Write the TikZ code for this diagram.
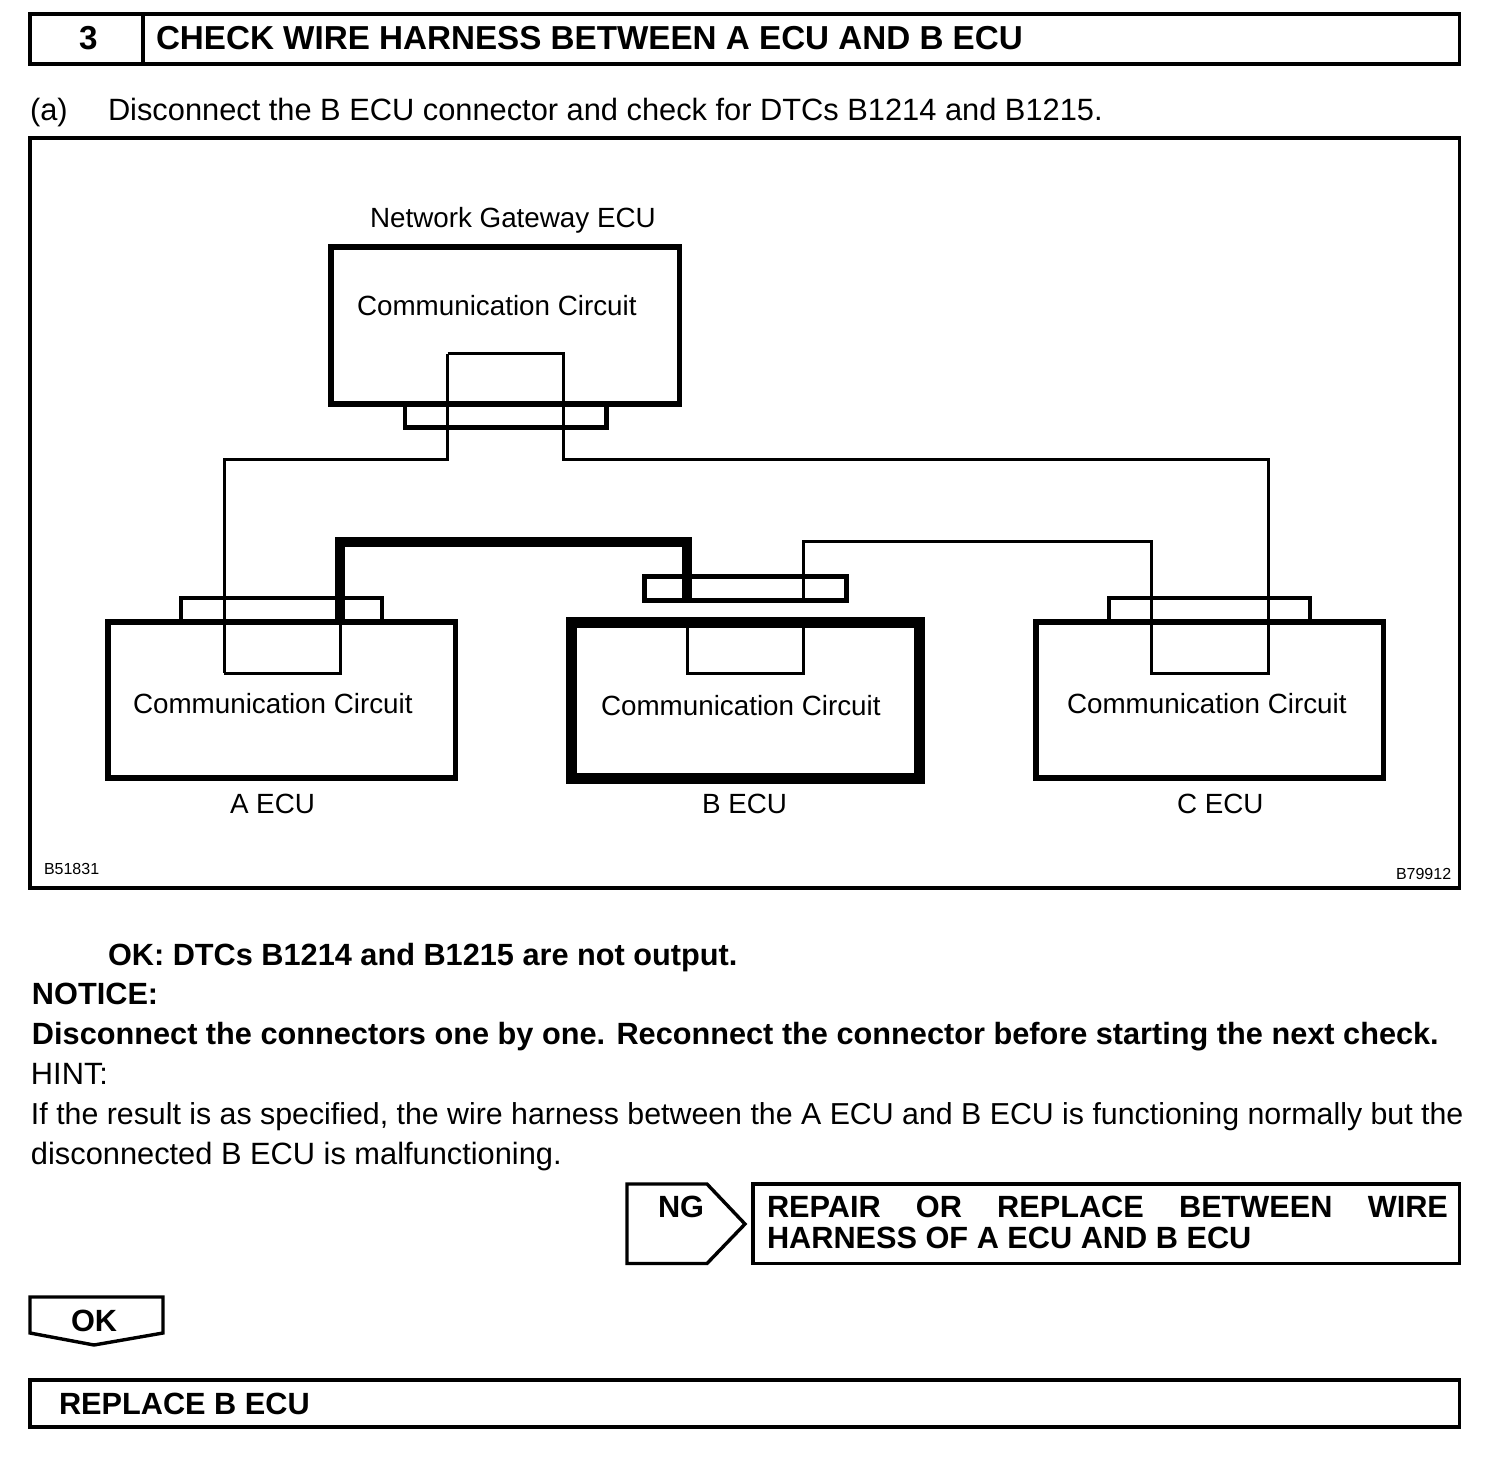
\documentclass[tikz,border=0pt]{standalone}
\usepackage{fontspec}
\setmainfont{Liberation Sans}
\tikzset{
  thinbox/.style={draw,line width=1.7pt,inner sep=0pt,outer sep=0pt},
  ecubox/.style={thinbox,line width=2.8pt},
  plugbox/.style={thinbox,line width=2.2pt},
  wire/.style={line width=1.5pt,line join=miter},
  harness/.style={line width=5pt,line join=miter},
  body/.style={inner sep=0pt,outer sep=0pt,anchor=base west,font=\fontsize{15.4}{18}\selectfont},
  bodybold/.style={body,font=\fontsize{15.35}{18}\selectfont\bfseries},
  figtext/.style={body,font=\fontsize{13.9}{16}\selectfont},
  tag/.style={body,font=\fontsize{8}{10}\selectfont},
}
% box by its corners, in pixels of the page
\newcommand{\drawbox}[6]{
\pgfmathsetmacro{\boxw}{(#5-#3)*0.5}
\pgfmathsetmacro{\boxh}{(#6-#4)*0.5}
\node[#2,minimum width=\boxw pt,minimum height=\boxh pt,anchor=north west] (#1) at (#3,#4) {};
}
\begin{document}
\begin{tikzpicture}[x=0.5pt,y=-0.5pt]
	\useasboundingbox (0,0) rectangle (1504,1470);
	% header
	\drawbox{headbox}{thinbox}{30}{14}{1459.5}{64}
	\draw[thinbox] (headbox.north west) ++(113,0) coordinate (headtop) -- (headtop |- headbox.south);
	\node[bodybold] (headnum) at (79,50) {\fontsize{16.6}{18}\selectfont 3};
	\node[bodybold] (headtext) at (156,50) {\fontsize{16.6}{18}\selectfont CHECK WIRE HARNESS BETWEEN A ECU AND B ECU};
	\node[body] (stepa) at (30,121) {(a)};
	\node[body] (stepatext) at (108,121) {Disconnect the B ECU connector and check for DTCs B1214 and B1215.};
	% frame of the figure
	\drawbox{framebox}{thinbox}{30}{138}{1459.5}{888}
	\node[figtext] (gwname) at (370,228) {Network Gateway ECU};
	\drawbox{gwbox}{ecubox}{331}{247}{679.5}{404}
	\drawbox{gwplug}{plugbox}{405}{404}{606.5}{427.5}
	\node[figtext] (gwtext) at (357,316) {Communication Circuit};
	\drawbox{aplug}{plugbox}{181}{598}{382}{622}
	\drawbox{abox}{ecubox}{108}{622}{455.5}{778}
	\node[figtext] (atext) at (133,713) {Communication Circuit};
	\node[figtext] (aname) at (230,813) {A ECU};
	\drawbox{bplug}{plugbox}{644.5}{576.5}{846.5}{600.5}
	\drawbox{bbox}{ecubox,line width=5.5pt}{571.5}{622}{919}{778}
	\node[figtext] (btext) at (601,715) {Communication Circuit};
	\node[figtext] (bname) at (702,813) {B ECU};
	\drawbox{cplug}{plugbox}{1109}{598}{1310}{622}
	\drawbox{cbox}{ecubox}{1036}{622}{1383.5}{778}
	\node[figtext] (ctext) at (1067,713) {Communication Circuit};
	\node[figtext] (cname) at (1177,813) {C ECU};
	% wires
	\coordinate (gwl) at (447.5,354);
	\coordinate (gwr) at (563.5,354);
	\coordinate (al) at (224,673);
	\coordinate (ar) at (340,673);
	\coordinate (bl) at (687,673);
	\coordinate (br) at (803.5,673);
	\coordinate (cl) at (1151.5,673);
	\coordinate (cr) at (1268.5,673);
	\draw[wire] (al) -- (ar) -- (340,622);
	\draw[wire] (gwl) -- (gwr) -- (563.5,460) -- (1268.5,460) -- (cr) -- (cl) -- (1151.5,542) -- (803.5,542) -- (803.5,600);
	\draw[wire] (803.5,622) -- (br) -- (bl) -- (687,622);
	\draw[wire] (gwl) -- (447.5,460) -- (224,460) -- (al);
	\draw[harness] (340,622) -- (340,542) -- (687,542) -- (687,600.5);
	\node[tag] (codea) at (44,874) {B51831};
	\node[tag] (codeb) at (1396,879) {B79912};
	% text under the figure
	\node[bodybold] (okline) at (108,965) {OK: DTCs B1214 and B1215 are not output.};
	\node[bodybold] (notice) at (32,1004) {NOTICE:};
	\node[bodybold] (noticetext) at (32,1044) {Disconnect the connectors one by one. Reconnect the connector before starting the next check.};
	\node[body] (hint) at (31,1084) {HINT:};
	\node[body,font=\fontsize{15.16}{18}\selectfont] (hintone) at (31,1124) {If the result is as specified, the wire harness between the A ECU and B ECU is functioning normally but the};
	\node[body] (hinttwo) at (31,1164) {disconnected B ECU is malfunctioning.};
	% NG branch
	\coordinate (nga) at (627,1184);
	\coordinate (ngb) at (707,1184);
	\coordinate (ngc) at (745,1224);
	\coordinate (ngd) at (707,1263.5);
	\coordinate (nge) at (627,1263.5);
	\draw[thinbox] (nga) -- (ngb) -- (ngc) -- (ngd) -- (nge) -- cycle;
	\node[bodybold] (ngtext) at (658,1217) {NG};
	\drawbox{repairbox}{thinbox}{753}{1184}{1459.5}{1263.5}
	\node[bodybold] (repairone) at (767,1217) {\makebox[340.5pt][s]{REPAIR\hfill OR\hfill REPLACE\hfill BETWEEN\hfill WIRE}};
	\node[bodybold] (repairtwo) at (767,1248) {HARNESS OF A ECU AND B ECU};
	% OK branch
	\coordinate (oka) at (30,1297);
	\coordinate (okb) at (163,1297);
	\coordinate (okc) at (163,1333);
	\coordinate (okd) at (94,1345);
	\coordinate (oke) at (30,1333);
	\draw[thinbox] (oka) -- (okb) -- (okc) -- (okd) -- (oke) -- cycle;
	\node[bodybold] (oktext) at (71,1331) {OK};
	\drawbox{replacebox}{thinbox}{30}{1380}{1459.5}{1427}
	\node[bodybold] (replacetext) at (59,1414) {REPLACE B ECU};
\end{tikzpicture}
\end{document}
